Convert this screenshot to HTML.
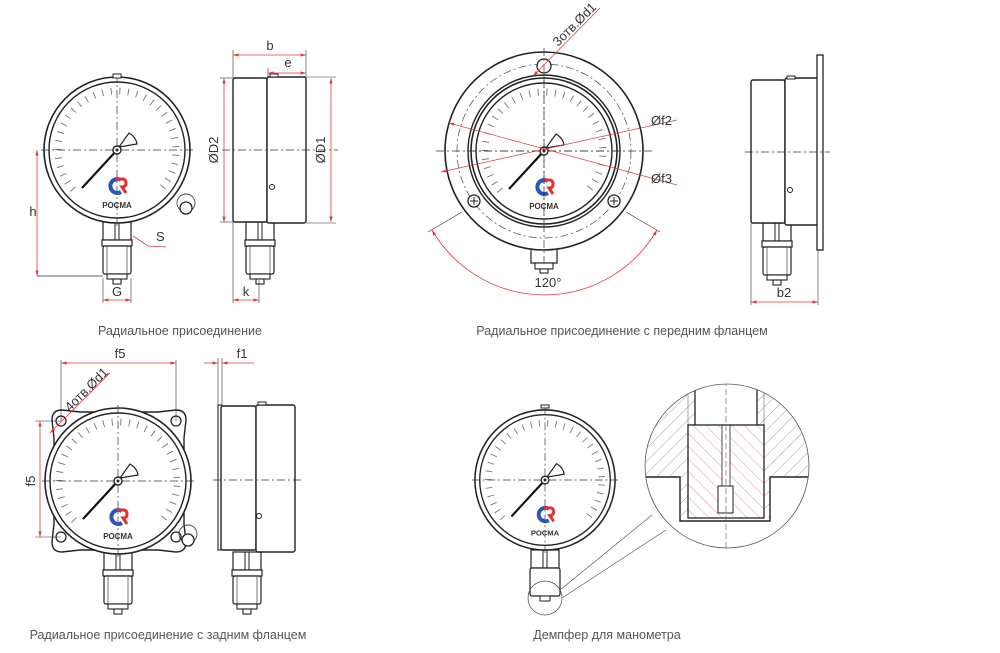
<!DOCTYPE html>
<html><head><meta charset="utf-8"><style>
html,body{margin:0;padding:0;background:#fff;width:1000px;height:653px;overflow:hidden}
svg{display:block}
text{font-family:"Liberation Sans",sans-serif;fill:#333}
.cap{font-size:12.5px;fill:#555}
.dim{font-size:13px;fill:#333}
</style></head><body>
<svg width="1000" height="653" viewBox="0 0 1000 653" xmlns="http://www.w3.org/2000/svg">
<defs>
<marker id="ar" viewBox="0 0 10 10" refX="10" refY="5" markerWidth="7" markerHeight="7" orient="auto-start-reverse"><path d="M0,2 L10,5 L0,8 z" fill="#e03a3a"/></marker>
<g id="dial">
  <circle r="73" fill="#fff" stroke="#222" stroke-width="1.6"/>
  <circle r="68" fill="none" stroke="#222" stroke-width="1.4"/>
  <path d="M-41.7,41.7 A59,59 0 1 1 41.7,41.7" fill="none" stroke="#777" stroke-width="7" pathLength="270" stroke-dasharray="0.9 7.5" stroke-dashoffset="-3"/>
  <line x1="-76" y1="0" x2="76" y2="0" stroke="#333" stroke-width="0.7" stroke-dasharray="8 3 2 3"/>
  <line x1="0" y1="-76" x2="0" y2="76" stroke="#333" stroke-width="0.7" stroke-dasharray="8 3 2 3"/>
  <line x1="0" y1="0" x2="-35" y2="38" stroke="#111" stroke-width="2.2"/>
  <path d="M2,-3 L12,-17 Q19,-13 20,-6 Z" fill="#fff" stroke="#222" stroke-width="1.2"/>
  <circle r="4" fill="#fff" stroke="#222" stroke-width="1.4"/>
  <circle r="1.5" fill="#222"/>
  <path d="M4,30 A7,7 0 1 0 4,42" fill="none" stroke="#2a56b8" stroke-width="4"/>
  <path d="M-1,29 L5,29 Q9,29 9,33 Q9,37 5,37 L9,43" fill="none" stroke="#e0332e" stroke-width="3"/>
  <text x="0" y="58" text-anchor="middle" style="font-size:8px;font-weight:bold;fill:#333">РОСМА</text>
</g>
<g id="stem">
  <rect x="-14" y="0" width="28" height="18" fill="#fff" stroke="#222" stroke-width="1.2"/>
  <line x1="-2" y1="0" x2="-2" y2="18" stroke="#222"/><line x1="2" y1="0" x2="2" y2="18" stroke="#222"/>
  <rect x="-15" y="18" width="30" height="6" fill="#fff" stroke="#222" stroke-width="1.2"/>
  <rect x="-14" y="24" width="28" height="28" rx="2" fill="#fff" stroke="#222" stroke-width="1.2"/>
  <line x1="-10" y1="24" x2="-10" y2="52" stroke="#555" stroke-width="0.8"/><line x1="10" y1="24" x2="10" y2="52" stroke="#555" stroke-width="0.8"/>
  <rect x="-10" y="52" width="20" height="5" fill="#fff" stroke="#222" stroke-width="1.1"/>
  <rect x="-4" y="57" width="8" height="5" fill="#fff" stroke="#222" stroke-width="1.1"/>
</g>
<clipPath id="zc"><circle cx="727" cy="466" r="82"/></clipPath>
<pattern id="hg" width="9" height="9" patternUnits="userSpaceOnUse" patternTransform="rotate(45)"><line x1="0" y1="0" x2="0" y2="9" stroke="#888" stroke-width="0.8"/></pattern>
<pattern id="hr" width="9" height="9" patternUnits="userSpaceOnUse" patternTransform="rotate(-45)"><line x1="0" y1="0" x2="0" y2="9" stroke="#e87a7a" stroke-width="0.8"/></pattern>
</defs>

<!-- ===== Gauge 1 ===== -->
<use href="#stem" x="117" y="222"/>
<g transform="translate(117,150)"><use href="#dial"/></g>
<rect x="113" y="74" width="8" height="4" fill="#fff" stroke="#222"/>
<circle cx="186" cy="203" r="9" fill="none" stroke="#444" stroke-width="0.9"/>
<circle cx="186" cy="208" r="6" fill="#fff" stroke="#222" stroke-width="1.3"/>
<line x1="37" y1="276" x2="103" y2="276" stroke="#333" stroke-width="0.7"/>
<line x1="37" y1="150" x2="37" y2="276" stroke="#e03a3a" stroke-width="0.8" marker-start="url(#ar)" marker-end="url(#ar)"/>
<text class="dim" x="33" y="216" text-anchor="middle">h</text>
<line x1="103" y1="278" x2="103" y2="303" stroke="#333" stroke-width="0.6"/><line x1="131" y1="278" x2="131" y2="303" stroke="#333" stroke-width="0.6"/>
<line x1="103" y1="300" x2="131" y2="300" stroke="#e03a3a" stroke-width="0.8" marker-start="url(#ar)" marker-end="url(#ar)"/>
<text class="dim" x="117" y="296" text-anchor="middle">G</text>
<polyline points="133,236 148,246 166,247" fill="none" stroke="#e03a3a" stroke-width="0.8"/>
<text class="dim" x="156" y="241">S</text>

<!-- side 1 -->
<use href="#stem" x="260" y="222"/>
<rect x="233" y="78" width="34" height="144" rx="2" fill="#fff" stroke="#222" stroke-width="1.4"/>
<rect x="267" y="77" width="39" height="146" rx="2" fill="#fff" stroke="#222" stroke-width="1.4"/>
<rect x="270" y="74" width="8" height="3" fill="#fff" stroke="#222"/>
<circle cx="272" cy="187" r="2.5" fill="#fff" stroke="#222"/>
<line x1="222" y1="150" x2="338" y2="150" stroke="#333" stroke-width="0.7" stroke-dasharray="8 3 2 3"/>
<line x1="233" y1="50" x2="233" y2="78" stroke="#333" stroke-width="0.6"/><line x1="306" y1="50" x2="306" y2="77" stroke="#333" stroke-width="0.6"/><line x1="268" y1="68" x2="268" y2="77" stroke="#333" stroke-width="0.6"/>
<line x1="233" y1="55" x2="306" y2="55" stroke="#e03a3a" stroke-width="0.8" marker-start="url(#ar)" marker-end="url(#ar)"/>
<text class="dim" x="270" y="50" text-anchor="middle">b</text>
<line x1="268" y1="73" x2="306" y2="73" stroke="#e03a3a" stroke-width="0.8" marker-start="url(#ar)" marker-end="url(#ar)"/>
<text class="dim" x="288" y="67" text-anchor="middle">e</text>
<line x1="220" y1="78" x2="233" y2="78" stroke="#333" stroke-width="0.6"/><line x1="220" y1="222" x2="233" y2="222" stroke="#333" stroke-width="0.6"/>
<line x1="224" y1="78" x2="224" y2="222" stroke="#e03a3a" stroke-width="0.8" marker-start="url(#ar)" marker-end="url(#ar)"/>
<text class="dim" transform="translate(218,150) rotate(-90)" text-anchor="middle">ØD2</text>
<line x1="306" y1="77" x2="336" y2="77" stroke="#333" stroke-width="0.6"/><line x1="306" y1="223" x2="336" y2="223" stroke="#333" stroke-width="0.6"/>
<line x1="331" y1="78" x2="331" y2="222" stroke="#e03a3a" stroke-width="0.8" marker-start="url(#ar)" marker-end="url(#ar)"/>
<text class="dim" transform="translate(325,150) rotate(-90)" text-anchor="middle">ØD1</text>
<line x1="233" y1="222" x2="233" y2="303" stroke="#333" stroke-width="0.6"/><line x1="259" y1="280" x2="259" y2="303" stroke="#333" stroke-width="0.6"/>
<line x1="233" y1="300" x2="259" y2="300" stroke="#e03a3a" stroke-width="0.8" marker-start="url(#ar)" marker-end="url(#ar)"/>
<text class="dim" x="246" y="296" text-anchor="middle">k</text>
<text class="cap" x="180" y="335" text-anchor="middle">Радиальное присоединение</text>

<!-- ===== Gauge 2 flange ===== -->
<rect x="531" y="247" width="26" height="16" fill="#fff" stroke="#222" stroke-width="1.2"/>
<rect x="535" y="263" width="18" height="6" fill="#fff" stroke="#222" stroke-width="1.1"/>
<rect x="540" y="269" width="8" height="4" fill="#fff" stroke="#222" stroke-width="1.1"/>
<circle cx="544" cy="151" r="99" fill="#fff" stroke="#222" stroke-width="1.6"/>
<circle cx="544" cy="151" r="87" fill="none" stroke="#444" stroke-width="0.7" stroke-dasharray="8 3 2 3"/>
<circle cx="544" cy="151" r="76" fill="none" stroke="#222" stroke-width="1.4"/>
<g transform="translate(544,151)"><use href="#dial"/></g>
<circle cx="544" cy="66" r="7" fill="#fff" stroke="#222" stroke-width="1.3"/>
<circle cx="474" cy="201" r="6" fill="#fff" stroke="#222" stroke-width="1.3"/><line x1="470" y1="201" x2="478" y2="201" stroke="#222"/><line x1="474" y1="197" x2="474" y2="205" stroke="#222"/>
<circle cx="614" cy="201" r="6" fill="#fff" stroke="#222" stroke-width="1.3"/><line x1="610" y1="201" x2="618" y2="201" stroke="#222"/><line x1="614" y1="197" x2="614" y2="205" stroke="#222"/>
<line x1="436" y1="151" x2="652" y2="151" stroke="#333" stroke-width="0.7" stroke-dasharray="8 3 2 3"/>
<line x1="544" y1="48" x2="544" y2="265" stroke="#333" stroke-width="0.7" stroke-dasharray="8 3 2 3"/>
<line x1="533" y1="76" x2="600" y2="8" stroke="#e03a3a" stroke-width="0.8" marker-start="url(#ar)"/>
<text class="dim" transform="translate(558,47) rotate(-45)">3отв.Ød1</text>
<line x1="449" y1="123" x2="677" y2="185" stroke="#e03a3a" stroke-width="0.7" marker-start="url(#ar)"/>
<line x1="441" y1="172" x2="677" y2="120" stroke="#e03a3a" stroke-width="0.7" marker-start="url(#ar)"/>
<text class="dim" x="651" y="125">Øf2</text>
<text class="dim" x="651" y="183">Øf3</text>
<line x1="462" y1="212" x2="428" y2="232" stroke="#333" stroke-width="0.6"/>
<line x1="626" y1="212" x2="660" y2="232" stroke="#333" stroke-width="0.6"/>
<path d="M432,230 A130,130 0 0 0 657,230" fill="none" stroke="#e03a3a" stroke-width="0.8" marker-start="url(#ar)" marker-end="url(#ar)"/>
<text class="dim" x="548" y="287" text-anchor="middle">120°</text>

<!-- side 2 -->
<use href="#stem" x="777" y="223"/>
<rect x="751" y="80" width="34" height="143" rx="2" fill="#fff" stroke="#222" stroke-width="1.4"/>
<rect x="785" y="78" width="35" height="147" rx="2" fill="#fff" stroke="#222" stroke-width="1.4"/>
<rect x="817" y="55" width="6" height="195" fill="#fff" stroke="#222" stroke-width="1.3"/>
<rect x="787" y="76" width="8" height="3" fill="#fff" stroke="#222"/>
<circle cx="790" cy="190" r="2.5" fill="#fff" stroke="#222"/>
<line x1="745" y1="152" x2="830" y2="152" stroke="#333" stroke-width="0.7" stroke-dasharray="8 3 2 3"/>
<line x1="751" y1="223" x2="751" y2="305" stroke="#333" stroke-width="0.6"/><line x1="818" y1="250" x2="818" y2="305" stroke="#333" stroke-width="0.6"/>
<line x1="751" y1="302" x2="818" y2="302" stroke="#e03a3a" stroke-width="0.8" marker-start="url(#ar)" marker-end="url(#ar)"/>
<text class="dim" x="784" y="297" text-anchor="middle">b2</text>
<text class="cap" x="622" y="335" text-anchor="middle">Радиальное присоединение с передним фланцем</text>

<!-- ===== Gauge 3 rear flange ===== -->
<use href="#stem" x="118" y="552"/>
<path d="M52,420 Q52,410 62,410 L80,412 L158,412 L176,410 Q186,410 186,420 L184,438 L184,524 L186,542 Q186,552 176,552 L158,550 L80,550 L62,552 Q52,552 52,542 L54,524 L54,438 Z" fill="#fff" stroke="#222" stroke-width="1.4"/>
<g transform="translate(118,481)"><use href="#dial"/></g>
<circle cx="61" cy="421" r="5" fill="#fff" stroke="#222" stroke-width="1.3"/><circle cx="176" cy="421" r="5" fill="#fff" stroke="#222" stroke-width="1.3"/>
<circle cx="61" cy="537" r="5" fill="#fff" stroke="#222" stroke-width="1.3"/><circle cx="176" cy="537" r="5" fill="#fff" stroke="#222" stroke-width="1.3"/>
<circle cx="188" cy="534" r="9" fill="none" stroke="#444" stroke-width="0.9"/>
<circle cx="188" cy="540" r="6" fill="#fff" stroke="#222" stroke-width="1.3"/>
<line x1="61" y1="360" x2="61" y2="421" stroke="#333" stroke-width="0.6"/><line x1="176" y1="360" x2="176" y2="421" stroke="#333" stroke-width="0.6"/>
<line x1="61" y1="363" x2="176" y2="363" stroke="#e03a3a" stroke-width="0.8" marker-start="url(#ar)" marker-end="url(#ar)"/>
<text class="dim" x="120" y="358" text-anchor="middle">f5</text>
<line x1="35" y1="421" x2="61" y2="421" stroke="#333" stroke-width="0.6"/><line x1="35" y1="537" x2="61" y2="537" stroke="#333" stroke-width="0.6"/>
<line x1="40" y1="421" x2="40" y2="537" stroke="#e03a3a" stroke-width="0.8" marker-start="url(#ar)" marker-end="url(#ar)"/>
<text class="dim" transform="translate(35,481) rotate(-90)" text-anchor="middle">f5</text>
<line x1="50" y1="433" x2="110" y2="373" stroke="#e03a3a" stroke-width="0.8" marker-start="url(#ar)"/>
<text class="dim" transform="translate(70,412) rotate(-45)">4отв.Ød1</text>

<!-- side 3 -->
<use href="#stem" x="247" y="552"/>
<rect x="218" y="405" width="4" height="145" fill="#fff" stroke="#222" stroke-width="1.1"/>
<rect x="221" y="406" width="35" height="144" rx="2" fill="#fff" stroke="#222" stroke-width="1.4"/>
<rect x="256" y="405" width="39" height="147" rx="2" fill="#fff" stroke="#222" stroke-width="1.4"/>
<rect x="258" y="402" width="8" height="3" fill="#fff" stroke="#222"/>
<circle cx="259" cy="516" r="2.5" fill="#fff" stroke="#222"/>
<line x1="213" y1="480" x2="302" y2="480" stroke="#333" stroke-width="0.7" stroke-dasharray="8 3 2 3"/>
<line x1="218" y1="358" x2="218" y2="405" stroke="#333" stroke-width="0.6"/><line x1="222" y1="358" x2="222" y2="405" stroke="#333" stroke-width="0.6"/>
<line x1="204" y1="363" x2="218" y2="363" stroke="#e03a3a" stroke-width="0.8" marker-end="url(#ar)"/>
<line x1="254" y1="363" x2="222" y2="363" stroke="#e03a3a" stroke-width="0.8" marker-end="url(#ar)"/>
<text class="dim" x="242" y="358" text-anchor="middle">f1</text>
<text class="cap" x="168" y="639" text-anchor="middle">Радиальное присоединение с задним фланцем</text>

<!-- ===== Gauge 4 damper ===== -->
<rect x="531" y="550" width="28" height="18" fill="#fff" stroke="#222" stroke-width="1.2"/>
<line x1="543" y1="550" x2="543" y2="568" stroke="#222"/><line x1="547" y1="550" x2="547" y2="568" stroke="#222"/>
<rect x="530" y="568" width="30" height="28" rx="2" fill="#fff" stroke="#222" stroke-width="1.2"/>
<rect x="540" y="596" width="10" height="5" fill="#fff" stroke="#222"/>
<g transform="translate(545,480) scale(0.96)"><use href="#dial"/></g>
<rect x="541" y="405" width="8" height="3" fill="#fff" stroke="#222"/>
<circle cx="545" cy="598" r="17" fill="none" stroke="#444" stroke-width="0.7"/>
<line x1="560" y1="590" x2="652" y2="515" stroke="#555" stroke-width="0.7"/>
<line x1="562" y1="598" x2="666" y2="530" stroke="#555" stroke-width="0.7"/>
<circle cx="727" cy="466" r="82" fill="#fff" stroke="#555" stroke-width="0.8"/>
<g clip-path="url(#zc)">
  <path d="M640,380 L695,380 L695,425 L688,425 L688,518 L680,518 L680,477 L640,477 Z" fill="url(#hg)"/>
  <path d="M814,380 L757,380 L757,425 L764,425 L764,518 L770,518 L770,477 L814,477 Z" fill="url(#hg)"/>
  <rect x="688" y="425" width="34" height="93" fill="url(#hr)"/>
  <rect x="730" y="425" width="34" height="93" fill="url(#hr)"/>
  <rect x="718" y="486" width="15" height="27" fill="#fff" stroke="#222" stroke-width="1"/>
  <line x1="695" y1="380" x2="695" y2="425" stroke="#222" stroke-width="1.3"/>
  <line x1="757" y1="380" x2="757" y2="425" stroke="#222" stroke-width="1.3"/>
  <line x1="688" y1="380" x2="688" y2="518" stroke="#666" stroke-width="0.6"/>
  <line x1="764" y1="380" x2="764" y2="518" stroke="#666" stroke-width="0.6"/>
  <rect x="688" y="425" width="76" height="93" fill="none" stroke="#222" stroke-width="1.3"/>
  <line x1="722" y1="425" x2="722" y2="486" stroke="#222" stroke-width="0.8"/>
  <line x1="730" y1="425" x2="730" y2="486" stroke="#222" stroke-width="0.8"/>
  <polyline points="640,477 680,477 680,521 770,521 770,477 814,477" fill="none" stroke="#222" stroke-width="1.4"/>
  <line x1="726" y1="380" x2="726" y2="552" stroke="#555" stroke-width="0.6" stroke-dasharray="6 3"/>
</g>
<text class="cap" x="607" y="639" text-anchor="middle">Демпфер для манометра</text>
</svg>
</body></html>
